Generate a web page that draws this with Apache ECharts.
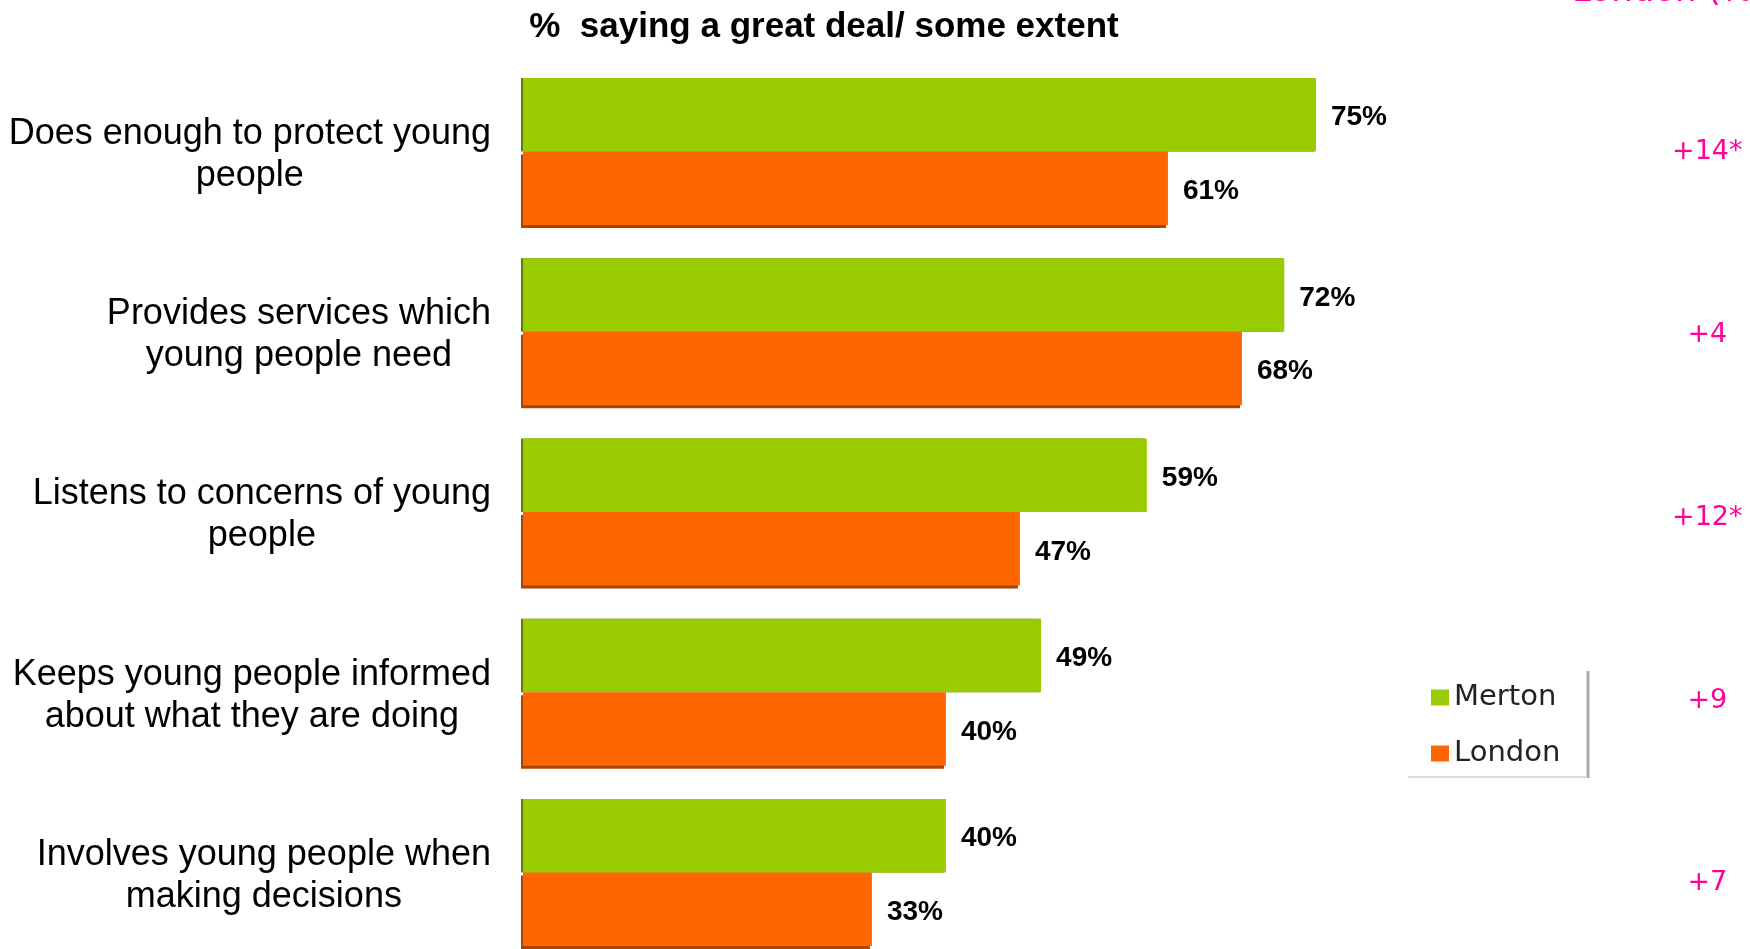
<!DOCTYPE html>
<html>
<head>
<meta charset="utf-8">
<script src="https://cdn.jsdelivr.net/npm/echarts@6/dist/echarts.min.js"></script>
<style>
html,body{margin:0;padding:0;background:#fff;}
#chart{width:1750px;height:949px;}
</style>
</head>
<body>
<div id="chart"></div>
<script>
const categories = [
  'Does enough to protect young\npeople',
  'Provides services which\nyoung people need',
  'Listens to concerns of young\npeople',
  'Keeps young people informed\nabout what they are doing',
  'Involves young people when\nmaking decisions'
];
const mertonValues = [75, 72, 59, 49, 40];
const londonValues = [61, 68, 47, 40, 33];
const diffLabels = ['+14*', '+4', '+12*', '+9', '+7'];
const seriesNames = ['Merton', 'London'];
const titleText = '%  saying a great deal/ some extent';
const cornerText = 'London (%)';

const chart = echarts.init(document.getElementById('chart'), null, {renderer: 'canvas'});
const valueLabel = {show: true, position: 'right', distance: 15, offset: [0, 3], formatter: '{c}%', fontSize: 28, fontWeight: 'bold', fontFamily: 'Liberation Sans', color: '#000'};
const option = {
  animation: false,
  backgroundColor: '#ffffff',
  title: {
    text: titleText,
    left: 824,
    top: 10,
    textAlign: 'center',
    padding: 0,
    textStyle: {fontSize: 35, fontWeight: 'bold', fontFamily: 'Liberation Sans', color: '#000'}
  },
  legend: {
    data: seriesNames,
    orient: 'vertical',
    left: 1431,
    top: 683,
    padding: 0,
    itemWidth: 18,
    itemHeight: 16,
    itemGap: 27,
    icon: 'rect',
    itemStyle: {shadowBlur: 0, shadowOffsetX: 0, shadowOffsetY: 0, shadowColor: 'rgba(0,0,0,0)'},
    textStyle: {fontSize: 29, fontFamily: 'DejaVu Sans', color: '#222'}
  },
  grid: [
    {left: 523, right: 169.7, top: 61.4, height: 901.25, containLabel: false, outerBoundsMode: 'none'},
    {left: 523, right: 169.7, top: 60.9, height: 913.8, containLabel: false, outerBoundsMode: 'none'}
  ],
  xAxis: [
    {type: 'value', gridIndex: 0, min: 0, max: 100, show: false},
    {type: 'value', gridIndex: 1, min: 0, max: 100, show: false}
  ],
  yAxis: [
    {
      type: 'category',
      gridIndex: 0,
      data: categories,
      inverse: true,
      axisLine: {show: false},
      axisTick: {show: false},
      splitLine: {show: false},
      axisLabel: {
        margin: 32,
        align: 'right',
        padding: [7, 0, 0, 0],
        formatter: function (v) {
          return v.split('\n').map(function (l) { return '{c|' + l + '}'; }).join('\n');
        },
        rich: {
          c: {align: 'center', fontSize: 36, lineHeight: 42, fontFamily: 'Liberation Sans', color: '#000'}
        }
      }
    },
    {
      type: 'category',
      gridIndex: 1,
      data: diffLabels,
      inverse: true,
      position: 'right',
      axisLine: {show: false},
      axisTick: {show: false},
      splitLine: {show: false},
      axisLabel: {margin: 127, align: 'center', color: '#FF0099', fontSize: 27, fontFamily: 'DejaVu Sans'}
    }
  ],
  series: [
    {
      name: seriesNames[0],
      type: 'bar',
      xAxisIndex: 0,
      yAxisIndex: 0,
      data: mertonValues,
      barGap: '0%',
      barCategoryGap: '18.4%',
      itemStyle: {color: '#99CC00', shadowColor: '#5f8000', shadowOffsetX: -2, shadowOffsetY: 0, shadowBlur: 0},
      label: valueLabel
    },
    {
      name: seriesNames[1],
      type: 'bar',
      xAxisIndex: 0,
      yAxisIndex: 0,
      data: londonValues,
      barGap: '0%',
      barCategoryGap: '18.4%',
      itemStyle: {color: '#FF6600', shadowColor: '#a84400', shadowOffsetX: -2, shadowOffsetY: 3, shadowBlur: 0},
      label: valueLabel
    }
  ],
  graphic: [
    {type: 'line', shape: {x1: 1588, y1: 671, x2: 1588, y2: 778}, style: {stroke: '#aaaaaa', lineWidth: 3}, silent: true},
    {type: 'line', shape: {x1: 1408, y1: 777, x2: 1587, y2: 777}, style: {stroke: '#dddddd', lineWidth: 2}, silent: true},
    {type: 'text', x: 1572, y: -8, silent: true,
     style: {text: cornerText, fill: '#FF0099', font: '34px "DejaVu Sans"', textAlign: 'left', textVerticalAlign: 'middle'}}
  ]
};
chart.setOption(option);
</script>
</body>
</html>
